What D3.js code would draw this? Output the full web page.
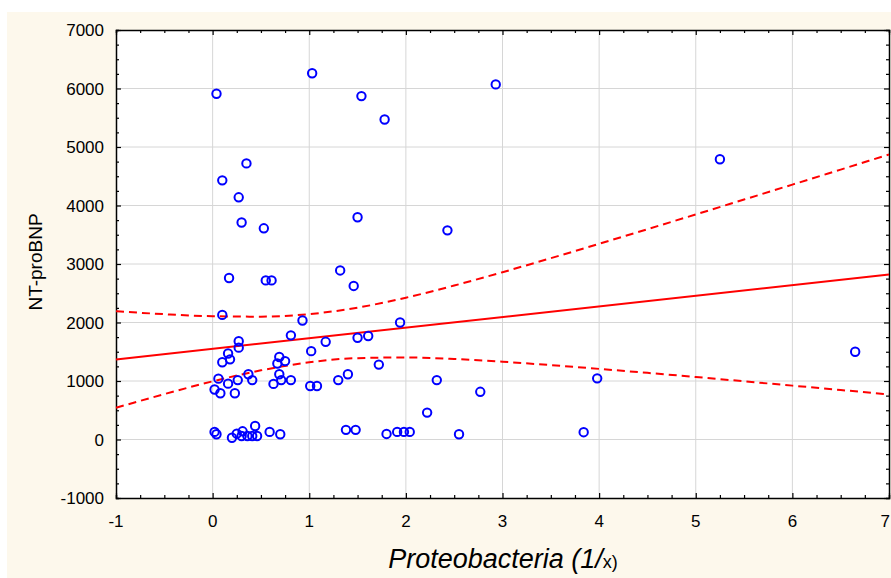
<!DOCTYPE html>
<html>
<head>
<meta charset="utf-8">
<script src="https://cdn.jsdelivr.net/npm/d3@7"></script>
<style>
  html, body { margin: 0; padding: 0; background: #ffffff; }
  svg { display: block; }
</style>
</head>
<body>
<div id="chart"></div>
<script>
/** Axis ticks (major). */
const xTicks = [-1, 0, 1, 2, 3, 4, 5, 6, 7];
const yTicks = [-1000, 0, 1000, 2000, 3000, 4000, 5000, 6000, 7000];

const pointsX = [
  0.04, 1.03, 1.54, 1.78, 2.93, 0.35, 0.10, 0.27, 0.30, 0.53, 1.50, 2.43, 5.25,
  0.17, 0.55, 0.61, 1.32, 1.46, 0.10, 0.93, 1.94, 0.81, 0.27, 0.27, 1.17, 1.50,
  1.61, 0.16, 0.10, 0.18, 1.02, 0.69, 0.67, 0.75, 1.72, 6.65, 3.98, 0.06, 0.02,
  0.08, 0.16, 0.23, 0.26, 0.37, 0.41, 0.63, 0.69, 0.71, 0.81, 1.01, 1.08, 1.30,
  1.40, 2.32, 2.77, 2.22, 0.02, 0.04, 0.20, 0.25, 0.31, 0.30, 0.36, 0.44, 0.41,
  0.46, 0.59, 0.70, 1.38, 1.48, 1.80, 1.91, 1.98, 2.04, 2.55, 3.84
];
const pointsY = [
  5910, 6260, 5870, 5470, 6070, 4720, 4430, 4140, 3710, 3610, 3800, 3575, 4790,
  2760, 2720, 2720, 2890, 2625, 2130, 2035, 2000, 1780, 1680, 1570, 1670, 1740,
  1770, 1470, 1320, 1370, 1510, 1410, 1300, 1340, 1280, 1500, 1045, 1040, 855,
  790, 955, 790, 1015, 1115, 1015, 950, 1115, 1015, 1015, 915, 915, 1015,
  1115, 1015, 815, 460, 130, 90, 30, 100, 140, 60, 60, 230, 60,
  60, 130, 90, 165, 165, 95, 130, 130, 130, 90, 125
];

/** Fitted regression line (end values). */
const fitX = [-1, 7];
const fitY = [1368, 2820];

/** 95% confidence band, read at half-unit steps. */
const bandX = [-1, -0.5, 0, 0.5, 1, 1.5, 2, 2.5, 3, 3.5, 4, 4.5, 5, 5.5, 6, 6.5, 7];
const bandUpper = [2194, 2142, 2107, 2100, 2143, 2254, 2424, 2632, 2860, 3099, 3345, 3595, 3847, 4102, 4357, 4614, 4871];
const bandLower = [542, 776, 994, 1182, 1320, 1391, 1402, 1376, 1329, 1272, 1207, 1139, 1068, 995, 921, 846, 770];

/** Canvas and plot frame. */
const W = 891, H = 578;
const plot = { left: 116, top: 30, right: 889, bottom: 498 };

const svg = d3.select("#chart").append("svg")
  .attr("width", W).attr("height", H)
  .style("overflow", "hidden");

/** Cream page background (white strip on top/left as in the source). */
svg.append("rect").attr("x", 7).attr("y", 12).attr("width", W).attr("height", H)
  .attr("fill", "#fdf8ec");

/** Scales. */
const x = d3.scaleLinear().domain([-1, 7]).range([plot.left, plot.right]);
const y = d3.scaleLinear().domain([-1000, 7000]).range([plot.bottom, plot.top]);

/** White plot area. */
svg.append("rect")
  .attr("x", plot.left).attr("y", plot.top)
  .attr("width", plot.right - plot.left).attr("height", plot.bottom - plot.top)
  .attr("fill", "#ffffff");

/** Grid lines at major ticks. */
const grid = svg.append("g").attr("stroke", "#d6d6d6").attr("stroke-width", 1);
grid.selectAll(".gx").data(xTicks.slice(1, -1)).join("line")
  .attr("x1", (d) => x(d)).attr("x2", (d) => x(d))
  .attr("y1", plot.top).attr("y2", plot.bottom);
grid.selectAll(".gy").data(yTicks.slice(1, -1)).join("line")
  .attr("x1", plot.left).attr("x2", plot.right)
  .attr("y1", (d) => y(d)).attr("y2", (d) => y(d));

/** Axes with inward ticks on all four sides (minor every quarter). */
const xMinor = d3.range(-1, 7.001, 0.25);
const yMinor = d3.range(-1000, 7001, 250);
const tickLen = (v, step) => (Math.abs(v / step - Math.round(v / step)) < 1e-6 ? 5 : 3);

const axisBottom = d3.axisBottom(x).tickValues(xMinor).tickSize(-3).tickFormat("");
const axisTop = d3.axisTop(x).tickValues(xMinor).tickSize(-3).tickFormat("");
const axisLeft = d3.axisLeft(y).tickValues(yMinor).tickSize(-3).tickFormat("");
const axisRight = d3.axisRight(y).tickValues(yMinor).tickSize(-3).tickFormat("");

function styleAxis(g, isX, sign) {
  g.select(".domain").attr("stroke", "#000").attr("stroke-width", 1.5);
  g.selectAll(".tick line").attr("stroke", "#000").attr("stroke-width", 1.2)
    .each(function (d) {
      const len = tickLen(d, isX ? 1 : 1000) * sign;
      if (isX) d3.select(this).attr("y2", len);
      else d3.select(this).attr("x2", len);
    });
}
svg.append("g").attr("transform", `translate(0,${plot.bottom})`).call(axisBottom)
  .call((g) => styleAxis(g, true, -1));
svg.append("g").attr("transform", `translate(0,${plot.top})`).call(axisTop)
  .call((g) => styleAxis(g, true, 1));
svg.append("g").attr("transform", `translate(${plot.left},0)`).call(axisLeft)
  .call((g) => styleAxis(g, false, 1));
svg.append("g").attr("transform", `translate(${plot.right},0)`).call(axisRight)
  .call((g) => styleAxis(g, false, -1));

/** Tick labels (last one kept inside the page edge). */
const labelFont = "'Liberation Sans', Arial, sans-serif";
svg.append("g").selectAll("text").data(xTicks).join("text")
  .attr("x", (d) => (d === 7 ? W - 1 : x(d))).attr("y", 527)
  .attr("text-anchor", (d) => (d === 7 ? "end" : "middle"))
  .attr("font-family", labelFont).attr("font-size", 17).attr("fill", "#000")
  .text((d) => d);
svg.append("g").selectAll("text").data(yTicks).join("text")
  .attr("x", 104).attr("y", (d) => y(d))
  .attr("dy", "0.36em")
  .attr("text-anchor", "end")
  .attr("font-family", labelFont).attr("font-size", 17).attr("fill", "#000")
  .text((d) => d);

/** Axis titles. */
svg.append("text")
  .attr("transform", "translate(42,262) rotate(-90)")
  .attr("text-anchor", "middle")
  .attr("font-family", labelFont).attr("font-size", 19).attr("fill", "#000")
  .text("NT-proBNP");

const xTitle = svg.append("text")
  .attr("x", 503).attr("y", 568)
  .attr("text-anchor", "middle")
  .attr("font-family", labelFont).attr("fill", "#000");
xTitle.append("tspan").attr("font-size", 27).attr("font-style", "italic")
  .text("Proteobacteria (1/");
xTitle.append("tspan").attr("font-size", 18).text("x)");

/** Regression line and confidence band. */
const line = d3.line().x((d) => x(d[0])).y((d) => y(d[1]));
const band = d3.line().x((d) => x(d[0])).y((d) => y(d[1])).curve(d3.curveMonotoneX);

svg.append("path")
  .datum(d3.zip(fitX, fitY))
  .attr("d", line)
  .attr("fill", "none").attr("stroke", "#ff0000").attr("stroke-width", 2);

[bandUpper, bandLower].forEach((vals) => {
  svg.append("path")
    .datum(d3.zip(bandX, vals))
    .attr("d", band)
    .attr("fill", "none").attr("stroke", "#ff0000").attr("stroke-width", 2)
    .attr("stroke-dasharray", "8,5");
});

/** Scatter points (open blue circles). */
svg.append("g").selectAll("circle").data(d3.zip(pointsX, pointsY)).join("circle")
  .attr("cx", (d) => x(d[0])).attr("cy", (d) => y(d[1]))
  .attr("r", 4.2)
  .attr("fill", "none").attr("stroke", "#0000ff").attr("stroke-width", 2);
</script>
</body>
</html>
